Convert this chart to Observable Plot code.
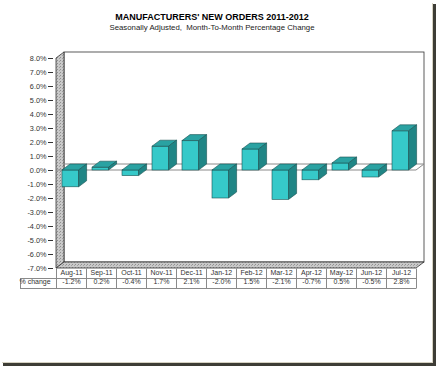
<!DOCTYPE html>
<html><head><meta charset="utf-8">
<script src="https://cdn.jsdelivr.net/npm/d3@7"></script>
<script src="https://cdn.jsdelivr.net/npm/@observablehq/plot@0.6"></script>
<style>body{margin:0;background:#fff} svg{display:block}</style>
</head><body><div id="chart"></div>
<script>
const months = ["Aug-11","Sep-11","Oct-11","Nov-11","Dec-11","Jan-12","Feb-12","Mar-12","Apr-12","May-12","Jun-12","Jul-12"];
const values = [-1.2, 0.2, -0.4, 1.7, 2.1, -2.0, 1.5, -2.1, -0.7, 0.5, -0.5, 2.8];
const yTicks = [-7,-6,-5,-4,-3,-2,-1,0,1,2,3,4,5,6,7,8];
const title = "MANUFACTURERS' NEW ORDERS 2011-2012";
const subtitle = "Seasonally Adjusted,  Month-To-Month Percentage Change";
const rowLabel = "% change";

const data = months.map((m, i) => ({month: m, value: values[i]}));
const DX = 8, DY = 6;
const pts = a => a.map(p => p.join(",")).join(" ");

function card(index, scales, values, dim) {
  const g = d3.create("svg:g");
  const W = dim.width, H = dim.height;
  g.append("rect").attr("x", 0).attr("y", 0).attr("width", W).attr("height", H).attr("fill", "#fff");
  g.append("rect").attr("x", W - 6).attr("y", 4).attr("width", 3).attr("height", H - 6).attr("fill", "#3e3d36");
  g.append("rect").attr("x", 3).attr("y", H - 5).attr("width", W - 6).attr("height", 3).attr("fill", "#3e3d36");
  g.append("line").attr("x1", W - 6.5).attr("x2", W - 6.5).attr("y1", 3).attr("y2", H - 5).attr("stroke", "#d6d2c2");
  g.append("line").attr("x1", 2).attr("x2", W - 6).attr("y1", H - 5.5).attr("y2", H - 5.5).attr("stroke", "#d6d2c2");
  return g.node();
}

function walls(index, scales, values, dim) {
  const {x, y} = scales;
  const dom = x.domain(), bw = x.bandwidth();
  const xl = x(dom[0]), xr = x(dom[dom.length - 1]) + bw;
  const [ymin, ymax] = d3.extent(yTicks);
  const yt = y(ymax), yb = y(ymin), y0 = y(0);
  const g = d3.create("svg:g");
  const defs = g.append("defs");
  const pat = defs.append("pattern").attr("id", "hatch").attr("patternUnits", "userSpaceOnUse").attr("width", 3).attr("height", 3);
  pat.append("rect").attr("width", 3).attr("height", 3).attr("fill", "#c9c9c9");
  pat.append("rect").attr("x", 0).attr("y", 0).attr("width", 1).attr("height", 1).attr("fill", "#8f8f8f");
  pat.append("rect").attr("x", 2).attr("y", 1).attr("width", 1).attr("height", 1).attr("fill", "#a0a0a0");
  // back wall
  g.append("rect").attr("x", xl + DX).attr("y", yt - DY).attr("width", xr - xl).attr("height", yb - yt)
    .attr("fill", "#fff").attr("stroke", "#333").attr("stroke-width", 0.8);
  // left wall
  g.append("polygon").attr("points", pts([[xl, yt], [xl + DX, yt - DY], [xl + DX, yb - DY], [xl, yb]]))
    .attr("fill", "url(#hatch)").attr("stroke", "#333").attr("stroke-width", 0.8);
  // floor
  g.append("polygon").attr("points", pts([[xl, yb], [xl + DX, yb - DY], [xr + DX, yb - DY], [xr, yb]]))
    .attr("fill", "url(#hatch)").attr("stroke", "#333").attr("stroke-width", 0.8);
  // zero plane
  g.append("polyline").attr("points", pts([[xl + DX, y0 - DY], [xr + DX, y0 - DY]]))
    .attr("fill", "none").attr("stroke", "#8a8a8a").attr("stroke-width", 1);
  g.append("polyline").attr("points", pts([[xl, y0], [xr, y0], [xr + DX, y0 - DY]]))
    .attr("fill", "none").attr("stroke", "#8a8a8a").attr("stroke-width", 1);
  return g.node();
}

function bar3d(index, scales, vals, dim, ctx, next) {
  const g = next(index, scales, vals, dim, ctx);
  const ns = "http://www.w3.org/2000/svg";
  for (const r of Array.from(g.querySelectorAll("rect"))) {
    const x = +r.getAttribute("x"), y = +r.getAttribute("y");
    const w = +r.getAttribute("width"), h = +r.getAttribute("height");
    const top = document.createElementNS(ns, "polygon");
    top.setAttribute("points", pts([[x, y], [x + DX, y - DY], [x + w + DX, y - DY], [x + w, y]]));
    top.setAttribute("fill", "#2aa2a2");
    const side = document.createElementNS(ns, "polygon");
    side.setAttribute("points", pts([[x + w, y], [x + w + DX, y - DY], [x + w + DX, y + h - DY], [x + w, y + h]]));
    side.setAttribute("fill", "#208585");
    r.after(side); r.after(top);
  }
  return g;
}

function tableGrid(index, scales, values, dim) {
  const {x, y} = scales;
  const dom = x.domain(), bw = x.bandwidth();
  const xl = x(dom[0]), xr = x(dom[dom.length - 1]) + bw;
  const yb = y(d3.min(yTicks));
  const r0 = yb + 0.5, r1 = yb + 10.5, r2 = yb + 20.5;
  const g = d3.create("svg:g").attr("stroke", "#8a8a8a").attr("stroke-width", 1).attr("fill", "none");
  g.append("line").attr("x1", xl).attr("x2", xr).attr("y1", r1).attr("y2", r1);
  g.append("line").attr("x1", xl - 36).attr("x2", xr).attr("y1", r2).attr("y2", r2);
  g.append("line").attr("x1", xl - 36).attr("x2", xl).attr("y1", r1).attr("y2", r1);
  g.append("line").attr("x1", xl - 35.5).attr("x2", xl - 35.5).attr("y1", r1).attr("y2", r2);
  for (const m of dom) {
    const xx = Math.round(x(m)) + 0.5;
    g.append("line").attr("x1", xx).attr("x2", xx).attr("y1", r0).attr("y2", r2);
  }
  g.append("line").attr("x1", Math.round(xr) + 0.5).attr("x2", Math.round(xr) + 0.5).attr("y1", r0).attr("y2", r2);
  return g.node();
}

const font = "'Liberation Sans', Arial, sans-serif";
const chart = Plot.plot({
  width: 439,
  height: 368,
  marginLeft: 53,
  marginRight: 21,
  marginTop: 58,
  marginBottom: 100,
  style: {fontFamily: font, background: "#fff", overflow: "visible"},
  x: {type: "band", domain: months, padding: 0, axis: null},
  y: {domain: d3.extent(yTicks), axis: null},
  marks: [
    card,
    walls,
    Plot.barY(data, {x: "month", y: "value", insetLeft: 6, insetRight: 7.4,
      fill: "#36c9c9", stroke: "#1b5252", strokeWidth: 0.6, render: bar3d}),
    Plot.axisY({ticks: yTicks, tickFormat: d => d.toFixed(1) + "%", tickSize: 5, tickPadding: 2,
      fontSize: 7.3, fill: "#333", stroke: "#333", label: null}),
    tableGrid,
    Plot.text(data, {x: "month", text: "month", frameAnchor: "bottom", dy: 6, fontSize: 7, fill: "#333"}),
    Plot.text(data, {x: "month", text: d => d.value.toFixed(1) + "%", frameAnchor: "bottom", dy: 15, fontSize: 7, fill: "#333"}),
    Plot.text([rowLabel], {text: d => d, frameAnchor: "bottom-left", textAnchor: "start", dx: -34, dy: 15, fontSize: 7, fill: "#333"}),
    Plot.text([title], {text: d => d, frameAnchor: "top", dx: -24, dy: -45, fontSize: 9, fontWeight: "bold", fill: "#000"}),
    Plot.text([subtitle], {text: d => d, frameAnchor: "top", dx: -24, dy: -34, fontSize: 7.8, fill: "#222"})
  ]
});
document.getElementById("chart").appendChild(chart);
</script>
</body></html>
